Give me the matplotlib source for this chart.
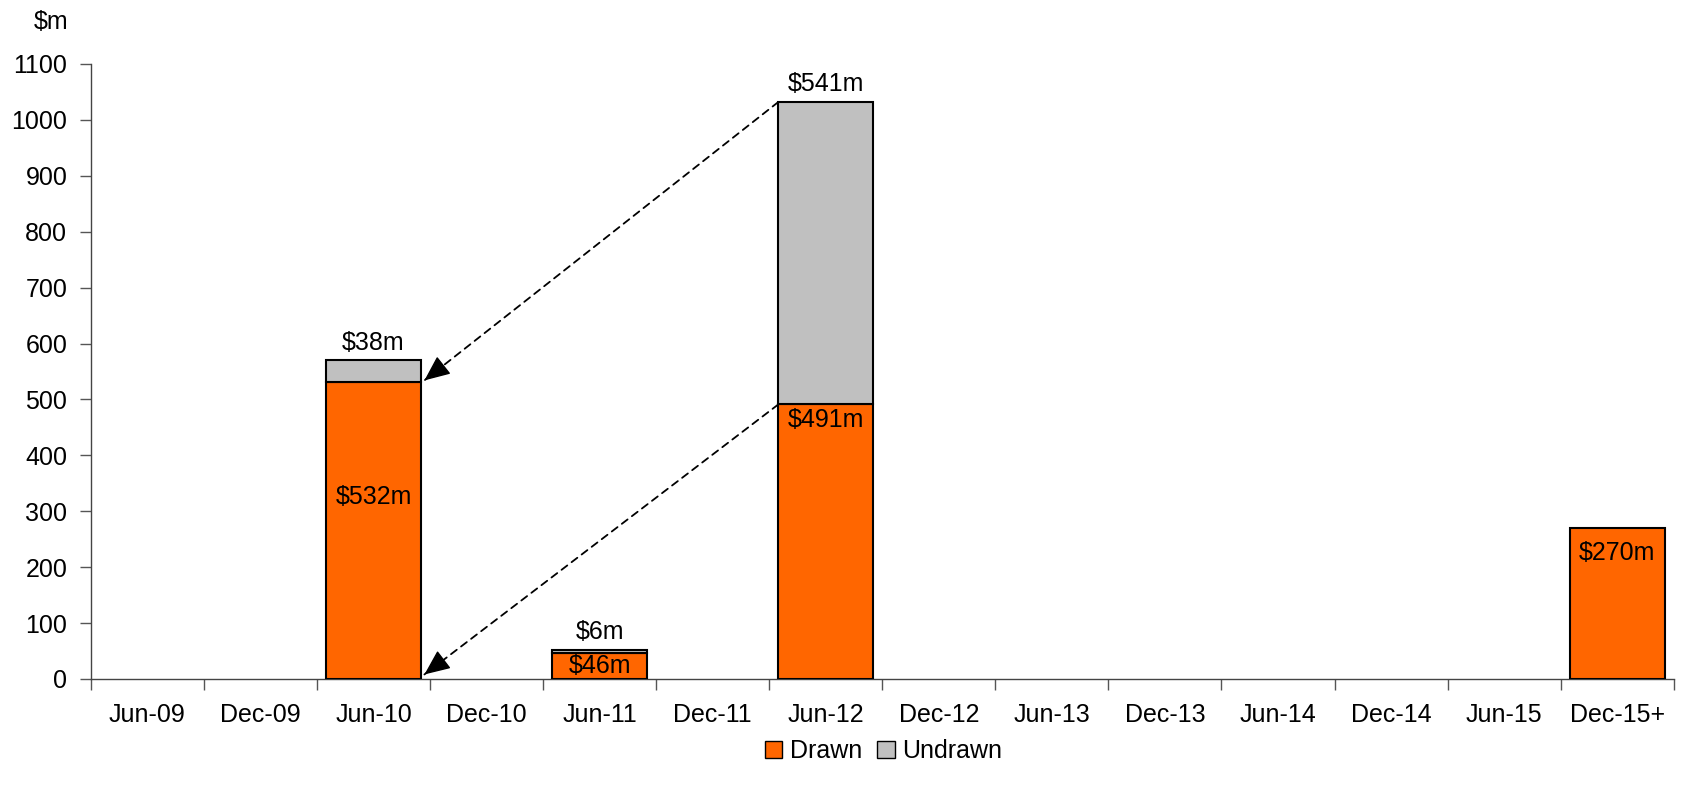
import matplotlib
matplotlib.use("Agg")
import matplotlib.pyplot as plt
import numpy as np
from matplotlib.patches import Patch

plt.rcParams["font.family"] = ["Liberation Sans", "DejaVu Sans"]

periods = ["Jun-09", "Dec-09", "Jun-10", "Dec-10", "Jun-11", "Dec-11", "Jun-12",
           "Dec-12", "Jun-13", "Dec-13", "Jun-14", "Dec-14", "Jun-15", "Dec-15+"]
drawn = [0, 0, 532, 0, 46, 0, 491, 0, 0, 0, 0, 0, 0, 270]
undrawn = [0, 0, 38, 0, 6, 0, 541, 0, 0, 0, 0, 0, 0, 0]

ORANGE = "#FF6600"
GREY = "#C0C0C0"

fig = plt.figure(figsize=(16.83, 7.95), dpi=100)
ax = fig.add_axes([0.054, 0.146, 0.9405, 0.7735])

x = np.arange(len(periods))
width = 0.84
d = np.array(drawn)
u = np.array(undrawn)
mask_d = d > 0
mask_u = u > 0
ax.bar(x[mask_d], d[mask_d], width, color=ORANGE, edgecolor="black", linewidth=1.5, zorder=3)
ax.bar(x[mask_u], u[mask_u], width, bottom=d[mask_u], color=GREY, edgecolor="black",
       linewidth=1.5, zorder=3)

fs = 18
# labels for undrawn (above bars)
for xi, di, ui in zip(x, d, u):
    if ui > 0:
        ax.text(xi, di + ui + 10, f"${ui}m", ha="center", va="bottom", fontsize=fs)
# labels for drawn (inside bars)
drawn_label_y = {2: 326, 4: 24, 6: 463, 13: 226}
for i, yv in drawn_label_y.items():
    ax.text(x[i], yv, f"${drawn[i]}m", ha="center", va="center", fontsize=fs)


def dashed_arrow(x0, y0, x1, y1):
    # dashed shaft + solid head
    ax.annotate("", xy=(x1, y1), xytext=(x0, y0), zorder=4,
                arrowprops=dict(arrowstyle="-", color="black", linestyle=(0, (4, 3)),
                                linewidth=1.3, shrinkA=0, shrinkB=0))
    t = 0.04
    hx, hy = x1 + (x0 - x1) * t, y1 + (y0 - y1) * t
    ax.annotate("", xy=(x1, y1), xytext=(hx, hy), zorder=5,
                arrowprops=dict(arrowstyle="-|>,head_length=0.8,head_width=0.35",
                                color="black", linewidth=1.0, mutation_scale=20,
                                shrinkA=0, shrinkB=0))


src = x[6] - width / 2
dst = x[2] + width / 2 + 0.03
dashed_arrow(src, drawn[6] + undrawn[6], dst, drawn[2] + 2)
dashed_arrow(src, drawn[6], dst, 8)

ax.set_xlim(-0.5, len(periods) - 0.5)
ax.set_ylim(0, 1100)
ax.set_yticks(np.arange(0, 1101, 100))
ax.set_xticks(x)
ax.set_xticklabels(periods)
ax.set_xticks(np.arange(-0.5, len(periods), 1.0), minor=True)
ax.tick_params(axis="x", which="major", length=0, pad=17, labelsize=fs)
ax.tick_params(axis="x", which="minor", length=8, width=1, direction="out", color="#555555")
ax.tick_params(axis="y", length=8, width=1, pad=9, labelsize=fs, color="#555555")
for s in ("top", "right"):
    ax.spines[s].set_visible(False)
for s in ("left", "bottom"):
    ax.spines[s].set_linewidth(1.0)
    ax.spines[s].set_color("#444444")

fig.text(0.02, 0.972, "$m", fontsize=fs, ha="left", va="center")

handles = [Patch(facecolor=ORANGE, edgecolor="black", label="Drawn"),
           Patch(facecolor=GREY, edgecolor="black", label="Undrawn")]
fig.legend(handles=handles, loc="center", bbox_to_anchor=(0.525, 0.055), ncol=2,
           frameon=False, fontsize=fs, handlelength=0.7, handleheight=0.7,
           handletextpad=0.3, columnspacing=0.6)

fig.savefig("out.png", dpi=100)
